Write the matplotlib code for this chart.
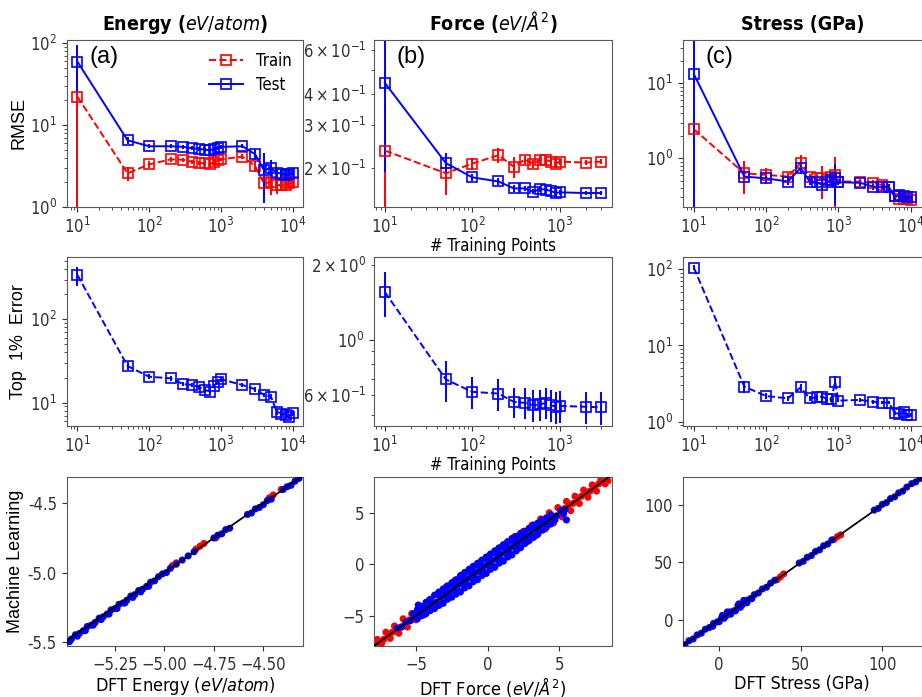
import matplotlib
matplotlib.use("Agg")
import matplotlib.pyplot as plt
from matplotlib.lines import Line2D

plt.rcParams["font.family"] = ["DejaVu Sans Condensed", "DejaVu Sans"]
plt.rcParams["font.stretch"] = "condensed"
plt.rcParams["mathtext.fontset"] = "dejavusans"
plt.rcParams["font.size"] = 12
plt.rcParams["axes.edgecolor"] = "0.35"
plt.rcParams["xtick.color"] = "0.2"
plt.rcParams["ytick.color"] = "0.2"

# ---------------- learning-curve data ----------------
n_points = [10, 50, 100, 200, 300, 400, 500, 600, 700, 800, 900, 1000,
            2000, 3000, 4000, 5000, 6000, 7000, 8000, 9000, 10000]
n_points_force = [10, 50, 100, 200, 300, 400, 500, 600, 700, 800, 900, 1000,
                  2000, 3000]

energy_rmse_train = [22.2, 2.56, 3.3, 3.8, 3.75, 3.55, 3.45, 3.4, 3.3, 3.5, 3.7, 3.8,
                     4.1, 3.15, 1.93, 2.0, 1.84, 1.84, 1.84, 1.93, 2.0]
energy_rmse_train_err = [23.0, 0.5, 0.3, 0.3, 0.25, 0.2, 0.2, 0.2, 0.2, 0.2, 0.2, 0.2,
                         0.3, 0.5, 0.5, 0.6, 0.4, 0.3, 0.3, 0.3, 0.3]
energy_rmse_test = [59.6, 6.5, 5.5, 5.5, 5.4, 5.2, 5.1, 5.0, 4.9, 5.1, 5.3, 5.4,
                    5.5, 4.4, 2.8, 3.0, 2.6, 2.55, 2.44, 2.5, 2.6]
energy_rmse_test_err = [35.0, 0.6, 0.3, 0.3, 0.3, 0.3, 0.3, 0.3, 0.3, 0.3, 0.3, 0.3,
                        0.3, 0.7, 1.7, 0.7, 0.4, 0.3, 0.3, 0.3, 0.3]

force_rmse_train = [0.236, 0.191, 0.209, 0.226, 0.203, 0.217, 0.209, 0.217, 0.216,
                    0.213, 0.208, 0.213, 0.211, 0.213]
force_rmse_train_err = [0.12, 0.035, 0.012, 0.015, 0.02, 0.008, 0.008, 0.008, 0.008,
                        0.008, 0.008, 0.006, 0.005, 0.005]
force_rmse_test = [0.443, 0.21, 0.184, 0.177, 0.166, 0.166, 0.161, 0.165, 0.164,
                   0.162, 0.159, 0.16, 0.159, 0.159]
force_rmse_test_err = [0.25, 0.02, 0.006, 0.006, 0.005, 0.004, 0.004, 0.004, 0.004,
                       0.004, 0.004, 0.004, 0.003, 0.003]

stress_rmse_train = [2.44, 0.63, 0.6, 0.57, 0.86, 0.57, 0.54, 0.54, 0.52, 0.57, 0.6, 0.49,
                     0.49, 0.47, 0.44, 0.41, 0.31, 0.29, 0.29, 0.29, 0.28]
stress_rmse_train_err = [1.0, 0.3, 0.15, 0.06, 0.25, 0.05, 0.05, 0.25, 0.05, 0.05, 0.45, 0.04,
                         0.04, 0.04, 0.04, 0.04, 0.03, 0.03, 0.03, 0.03, 0.03]
stress_rmse_test = [13.3, 0.57, 0.54, 0.49, 0.74, 0.49, 0.48, 0.44, 0.48, 0.52, 0.54, 0.48,
                    0.47, 0.42, 0.41, 0.41, 0.31, 0.32, 0.31, 0.30, 0.30]
stress_rmse_test_err = [25.0, 0.06, 0.05, 0.05, 0.1, 0.05, 0.05, 0.05, 0.05, 0.05, 0.3, 0.04,
                        0.04, 0.04, 0.04, 0.04, 0.03, 0.03, 0.03, 0.03, 0.03]

energy_top = [340, 27.5, 20.5, 19.6, 16.7, 16.3, 15.3, 14.2, 13.6, 15.8, 17.9, 19.1,
              16.3, 14.5, 12.4, 11.8, 7.8, 7.4, 7.1, 6.8, 7.6]
energy_top_err = [90, 3.0, 1.5, 1.5, 1.0, 1.0, 1.0, 1.0, 1.0, 1.0, 1.2, 1.2,
                  1.0, 1.0, 0.8, 0.8, 0.6, 0.5, 0.5, 0.5, 0.6]
force_top = [1.56, 0.695, 0.62, 0.61, 0.565, 0.56, 0.548, 0.552, 0.56, 0.548, 0.54,
             0.544, 0.54, 0.537]
force_top_err = [0.32, 0.13, 0.09, 0.09, 0.08, 0.08, 0.08, 0.08, 0.08, 0.08, 0.08,
                 0.08, 0.08, 0.08]
stress_top = [105, 2.88, 2.17, 2.02, 2.82, 2.02, 2.09, 2.13, 1.96, 1.96, 3.35, 1.89,
              1.93, 1.83, 1.78, 1.78, 1.31, 1.26, 1.35, 1.22, 1.22]
stress_top_err = [8, 0.5, 0.2, 0.15, 0.3, 0.15, 0.15, 0.2, 0.15, 0.15, 0.6, 0.1,
                  0.1, 0.1, 0.1, 0.1, 0.08, 0.08, 0.1, 0.08, 0.08]

# ---------------- parity data ----------------
energy_dft_train = [-4.96, -4.94, -4.84, -4.82, -4.80, -4.74, -4.47, -4.45, -4.41]
energy_ml_train = [-4.95, -4.93, -4.83, -4.81, -4.79, -4.75, -4.46, -4.44, -4.40]
energy_dft_test = [-5.49, -5.47, -5.45, -5.43, -5.41, -5.39, -5.37, -5.35, -5.33, -5.31,
                   -5.29, -5.27, -5.25, -5.23, -5.21, -5.19, -5.17, -5.15, -5.13, -5.11,
                   -5.09, -5.07, -5.05, -5.03, -5.01, -4.99, -4.97,
                   -4.94, -4.91, -4.88, -4.85,
                   -4.75, -4.73, -4.71, -4.69, -4.67,
                   -4.58, -4.56, -4.54, -4.52, -4.50, -4.48, -4.46,
                   -4.40, -4.38, -4.36, -4.34, -4.32,
                   -5.48, -5.44, -5.40, -5.36, -5.32, -5.28, -5.24, -5.20, -5.16, -5.12, -5.08]
energy_ml_test = [-5.50, -5.48, -5.45, -5.44, -5.42, -5.39, -5.38, -5.36, -5.33, -5.32,
                  -5.30, -5.27, -5.26, -5.23, -5.22, -5.20, -5.17, -5.16, -5.13, -5.12,
                  -5.10, -5.07, -5.06, -5.03, -5.01, -5.00, -4.97,
                  -4.94, -4.91, -4.88, -4.85,
                  -4.75, -4.73, -4.72, -4.69, -4.68,
                  -4.58, -4.57, -4.54, -4.53, -4.51, -4.48, -4.47,
                  -4.40, -4.38, -4.37, -4.34, -4.32,
                  -5.50, -5.46, -5.42, -5.38, -5.34, -5.30, -5.26, -5.22, -5.18, -5.14, -5.10]

force_dft_train = [-7.7, -7.1, -6.5, -5.9, -5.3, -4.7, -4.1, -3.5, -2.9, -2.3,
                   -1.7, -1.1, -0.5, 0.1, 0.7, 1.3, 1.9, 2.5, 3.1, 3.7,
                   4.3, 4.9, 5.5, 6.1, 6.7, 7.3, 7.9, 8.4,
                   -7.4, -6.8, -6.2, -5.6, -5.0, -4.4, -3.8, -3.2, -2.6, -2.0,
                   -1.4, -0.8, -0.2, 0.4, 1.0, 1.6, 2.2, 2.8, 3.4, 4.0,
                   4.6, 5.2, 5.8, 6.4, 7.0, 7.6, 8.2,
                   -7.85, -7.25, -6.65, -6.05, -5.45, 5.35, 5.95, 6.55, 7.15, 7.75, 8.3,
                   -7.55, -6.95, -6.35, -5.75, -5.15, 5.65, 6.25, 6.85, 7.45, 8.05]
force_ml_train = [-7.3, -6.6, -6.0, -5.3, -4.8, -4.1, -3.5, -2.9, -2.2, -1.6,
                  -1.0, -0.4, 0.2, 0.8, 1.4, 2.0, 2.7, 3.2, 3.8, 4.4,
                  5.0, 5.5, 6.1, 6.6, 7.2, 7.7, 8.2, 8.1,
                  -7.7, -7.2, -6.7, -6.1, -5.4, -4.9, -4.3, -3.7, -3.1, -2.6,
                  -2.0, -1.4, -0.8, -0.2, 0.4, 1.0, 1.6, 2.2, 2.8, 3.4,
                  4.0, 4.6, 5.2, 5.9, 6.5, 7.1, 7.8,
                  -7.8, -7.3, -6.6, -6.1, -5.4, 5.4, 5.9, 6.6, 7.1, 7.8, 8.2,
                  -7.7, -7.0, -6.5, -5.8, -5.3, 5.8, 6.2, 7.0, 7.4, 8.2]
force_dft_test = [-6.3, -6.0, -5.7, -5.4, -5.1, -4.8, -4.5, -4.2, -3.9, -3.6,
                  -3.3, -3.0, -2.7, -2.4, -2.1, -1.8, -1.5, -1.2, -0.9, -0.6,
                  -0.3, 0.0, 0.3, 0.6, 0.9, 1.2, 1.5, 1.8, 2.1, 2.4,
                  2.7, 3.0, 3.3, 3.6, 3.9, 4.2, 4.5, 4.8, 5.1, 5.4,
                  -5.2, -4.6, -4.0, -3.4, -2.8, -2.2, -1.6, -1.0, -0.4, 0.2,
                  0.8, 1.4, 2.0, 2.6, 3.2, 3.8, 4.4,
                  -4.9, -4.3, -3.7, -3.1, -2.5, -1.9, -1.3, -0.7, -0.1, 0.5,
                  1.1, 1.7, 2.3, 2.9, 3.5, 4.1, 4.7, 5.3,
                  -3.0, -2.4, -1.8, -1.2, -0.6, 0.0, 0.6, 1.2, 1.8, 2.4,
                  -2.7, -2.1, -1.5, -0.9, -0.3, 0.3, 0.9, 1.5, 2.1, 2.7,
                  -4.9, -4.3, -3.7, -3.1, -2.5, -1.9, -1.3, -0.7, -0.1, 0.5,
                  1.1, 1.7, 2.3, 2.9, 3.5, 4.1,
                  -4.6, -4.0, -3.4, -2.8, -2.2, -1.6, -1.0, -0.4, 0.2, 0.8,
                  1.4, 2.0, 2.6, 3.2, 3.8, 4.4,
                  5.5, -4.84]
force_ml_test = [-6.2, -6.1, -5.6, -5.5, -5.0, -4.9, -4.4, -4.3, -3.8, -3.7,
                 -3.2, -3.1, -2.6, -2.5, -2.0, -1.9, -1.4, -1.3, -0.8, -0.7,
                 -0.2, -0.1, 0.4, 0.5, 1.0, 1.1, 1.6, 1.7, 2.2, 2.3,
                 2.8, 2.9, 3.4, 3.5, 4.0, 4.1, 4.6, 4.7, 5.2, 5.3,
                 -4.8, -4.1, -3.4, -2.7, -2.1, -1.5, -0.8, -0.2, 0.4, 1.0,
                 1.6, 2.2, 2.7, 3.2, 3.8, 4.3, 4.8,
                 -5.3, -4.8, -4.3, -3.8, -3.2, -2.7, -2.1, -1.5, -0.9, -0.3,
                 0.3, 0.9, 1.6, 2.3, 2.9, 3.6, 4.3, 4.9,
                 -2.6, -2.0, -1.4, -0.8, -0.2, 0.4, 1.0, 1.6, 2.2, 2.8,
                 -3.1, -2.5, -1.9, -1.3, -0.7, -0.1, 0.5, 1.1, 1.7, 2.3,
                 -4.4, -3.7, -3.0, -2.4, -1.8, -1.1, -0.5, 0.1, 0.7, 1.3,
                 1.9, 2.5, 3.0, 3.5, 4.0, 4.5,
                 -5.0, -4.5, -4.0, -3.4, -2.9, -2.3, -1.7, -1.1, -0.5, 0.1,
                 0.7, 1.3, 2.0, 2.6, 3.3, 3.9,
                 4.3, -3.96]

stress_dft_train = [35.5, 37.5, 39.5, 70.5, 72.5, 74.5]
stress_ml_train = [35.0, 37.5, 40.0, 70.0, 72.5, 74.0]
stress_dft_test = [-21, -18.5, -16, -13.5, -11, -8.5, -6, -3.5, -1, 1.5,
                   4, 6.5, 9, 11.5, 14, 16.5, 19, 21.5, 24, 26.5, 29, 31.5, 34,
                   -4, 0, 3, 7, 10, 13, 17, 20, 2, 5, 12, 15,
                   49, 51.5, 54, 56.5, 59, 61.5, 64, 66.5, 69,
                   95, 97.5, 100, 102.5, 105, 107.5, 110, 112.5, 115, 118, 120.5, 123]
stress_ml_test = [-21.5, -18.0, -16.5, -13.0, -11.5, -8.0, -6.5, -3.0, -1.5, 2.0,
                  3.5, 7.0, 8.0, 12.5, 13.0, 17.0, 18.5, 22.0, 23.5, 27.0, 28.5, 32.0, 34.5,
                  -5.5, -1.5, 1.5, 5.0, 8.0, 11.0, 15.0, 18.5, 4.0, 7.0, 14.0, 17.0,
                  49.5, 51.0, 54.5, 56.0, 59.5, 61.0, 64.5, 66.0, 69.5,
                  95.5, 97.0, 100.5, 102.0, 105.5, 107.0, 110.5, 112.0, 115.5, 118.5, 120.0, 123.0]

energy_limits = [-5.494, -4.298]
energy_ylimits = [-5.531, -4.312]
force_limits = [-7.93, 8.68]
force_ylimits = [-7.94, 8.44]
stress_limits = [-22.2, 124.0]
stress_ylimits = [-22.6, 124.0]

col_titles = [r"Energy ($eV/atom$)", r"Force ($eV/Å^2$)", "Stress (GPa)"]
panel_tags = ["(a)", "(b)", "(c)"]
parity_xlabels = [r"DFT Energy ($eV/atom$)", r"DFT Force ($eV/Å^2$)", "DFT Stress (GPa)"]

# ---------------- figure layout ----------------
fig = plt.figure(figsize=(9.22, 6.97), dpi=100)
W, H = 922.0, 697.0
col_px = [(66.7, 303.3), (374.0, 612.0), (683.0, 921.5)]
row_px = [(40.0, 206.7), (257.3, 426.0), (477.3, 646.0)]
axes = [[fig.add_axes([c0 / W, 1 - r1 / H, (c1 - c0) / W, (r1 - r0) / H])
         for (c0, c1) in col_px] for (r0, r1) in row_px]

line_kw = dict(marker="s", mfc="none", ms=7.5, mew=1.2, lw=1.4, elinewidth=1.4, capsize=0)
label_font = ["Liberation Sans"]

# Row 1: RMSE learning curves
rmse_sets = [
    (n_points, energy_rmse_train, energy_rmse_train_err, energy_rmse_test, energy_rmse_test_err),
    (n_points_force, force_rmse_train, force_rmse_train_err, force_rmse_test, force_rmse_test_err),
    (n_points, stress_rmse_train, stress_rmse_train_err, stress_rmse_test, stress_rmse_test_err),
]
rmse_ylims = [(1.0, 110.0), (0.14, 0.66), (0.226, 37.8)]
for j, (x, tr, tre, te, tee) in enumerate(rmse_sets):
    ax = axes[0][j]
    ax.errorbar(x, tr, yerr=tre, color="red", ls="--", **line_kw)
    ax.errorbar(x, te, yerr=tee, color="blue", ls="-", **line_kw)
    ax.set_xscale("log")
    ax.set_yscale("log")
    ax.set_ylim(*rmse_ylims[j])
    ax.set_title(col_titles[j], fontsize=14, fontweight="bold", pad=7)
    ax.text(0.095, 0.90, panel_tags[j], transform=ax.transAxes, fontsize=17,
            family=label_font, va="center", ha="left")

legend_handles = [
    Line2D([], [], color="red", ls="--", marker="s", mfc="none", ms=7.5, mew=1.2, lw=1.4),
    Line2D([], [], color="blue", ls="-", marker="s", mfc="none", ms=7.5, mew=1.2, lw=1.4),
]
axes[0][0].legend(legend_handles, ["Train", "Test"], loc="upper right", frameon=False,
                  fontsize=12, handlelength=2.0, borderaxespad=0.3, labelspacing=0.4)
axes[0][0].set_ylabel("RMSE", fontsize=13, family=label_font)
axes[0][0].yaxis.set_label_coords(-0.164, 0.5)
axes[0][1].set_xlabel("# Training Points", fontsize=12, labelpad=0)

# Row 2: top 1% error
top_sets = [(n_points, energy_top, energy_top_err),
            (n_points_force, force_top, force_top_err),
            (n_points, stress_top, stress_top_err)]
top_ylims = [(5.25, 555.0), (0.452, 2.15), (0.877, 143.6)]
for j, (x, y, e) in enumerate(top_sets):
    ax = axes[1][j]
    ax.errorbar(x, y, yerr=e, color="blue", ls="--", **line_kw)
    ax.set_xscale("log")
    ax.set_yscale("log")
    ax.set_ylim(*top_ylims[j])
axes[1][0].set_ylabel("Top  1%  Error", fontsize=13, family=label_font)
axes[1][0].yaxis.set_label_coords(-0.169, 0.5)
axes[1][1].set_xlabel("# Training Points", fontsize=12, labelpad=0)

# Row 3: parity plots
parity_sets = [
    (energy_dft_train, energy_ml_train, energy_dft_test, energy_ml_test, energy_limits, energy_ylimits),
    (force_dft_train, force_ml_train, force_dft_test, force_ml_test, force_limits, force_ylimits),
    (stress_dft_train, stress_ml_train, stress_dft_test, stress_ml_test, stress_limits, stress_ylimits),
]
for j, (xtr, ytr, xte, yte, xl, yl) in enumerate(parity_sets):
    ax = axes[2][j]
    ax.scatter(xtr, ytr, s=26, color="red", edgecolors="none", zorder=2)
    ax.scatter(xte, yte, s=26, color="blue", edgecolors="none", zorder=3)
    lo, hi = min(xl[0], yl[0]), max(xl[1], yl[1])
    ax.plot([lo, hi], [lo, hi], color="black", lw=1.3, zorder=4)
    ax.set_xlim(*xl)
    ax.set_ylim(*yl)
    ax.set_xlabel(parity_xlabels[j], fontsize=13, labelpad=1)

axes[2][0].set_xticks([-5.25, -5.0, -4.75, -4.5])
axes[2][0].set_yticks([-5.5, -5.0, -4.5])
axes[2][0].set_yticklabels(["-5.5", "-5.0", "-4.5"])
axes[2][1].set_xticks([-5, 0, 5])
axes[2][1].set_yticks([-5, 0, 5])
axes[2][2].set_xticks([0, 50, 100])
axes[2][2].set_yticks([0, 50, 100])
axes[2][0].set_ylabel("Machine Learning", fontsize=13, family=label_font)
axes[2][0].yaxis.set_label_coords(-0.18, 0.5)

fig.savefig("out.png", dpi=100)
